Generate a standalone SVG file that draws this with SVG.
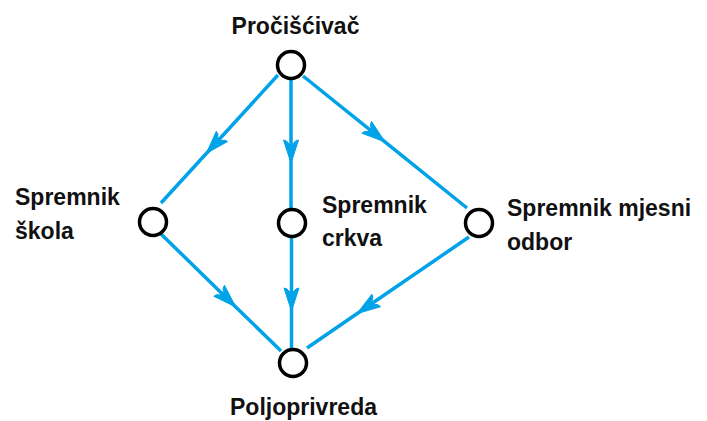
<svg xmlns="http://www.w3.org/2000/svg" width="707" height="421" viewBox="0 0 707 421">
<style>
.edge{fill:none;stroke:#00a2e8;stroke-width:3.5;marker-mid:url(#arr)}
.node{fill:#fff;stroke:#000;stroke-width:3.5}
.lbl{font-family:"Liberation Sans",Arial,sans-serif;font-weight:bold;font-size:23px;fill:#111}
</style>
<defs>
<marker id="arr" markerUnits="userSpaceOnUse" orient="auto" markerWidth="30" markerHeight="20" refX="0" refY="0" viewBox="-25 -10 30 20" overflow="visible">
<path d="M1,0 L-22,-7.5 L-21,-4.5 L-16,0 L-21,4.5 L-22,7.5 Z" fill="#00a2e8" stroke="#00a2e8" stroke-width="1" stroke-linejoin="round"/>
</marker>
</defs>
<rect width="707" height="421" fill="#fff"/>
<g id="connectors">
<path class="edge" d="M278,75 L207,152.7 L161,203"/>
<path class="edge" d="M291,79 L291,162 L291,208"/>
<path class="edge" d="M303,76 L384,141.2 L467,208"/>
<path class="edge" d="M161,234 L235,306.2 L281,351"/>
<path class="edge" d="M291.5,238 L291.5,310 L291.5,349"/>
<path class="edge" d="M469,237 L358,313 L307,348"/>
</g>
<g id="n-procistivac">
<circle class="node" cx="291" cy="65" r="13.5"/>
<text class="lbl" x="295.5" y="34" text-anchor="middle">Pročišćivač</text>
</g>
<g id="n-skola">
<circle class="node" cx="153" cy="222" r="13.5"/>
<text class="lbl" x="15" y="205">Spremnik</text>
<text class="lbl" x="15" y="239">škola</text>
</g>
<g id="n-crkva">
<circle class="node" cx="292" cy="223" r="13.5"/>
<text class="lbl" x="322" y="213">Spremnik</text>
<text class="lbl" x="322" y="246">crkva</text>
</g>
<g id="n-mjesni">
<circle class="node" cx="479" cy="223" r="13.5"/>
<text class="lbl" x="507" y="216">Spremnik mjesni</text>
<text class="lbl" x="507" y="250">odbor</text>
</g>
<g id="n-poljoprivreda">
<circle class="node" cx="293" cy="363" r="13.5"/>
<text class="lbl" x="303.5" y="415" text-anchor="middle">Poljoprivreda</text>
</g>
</svg>
